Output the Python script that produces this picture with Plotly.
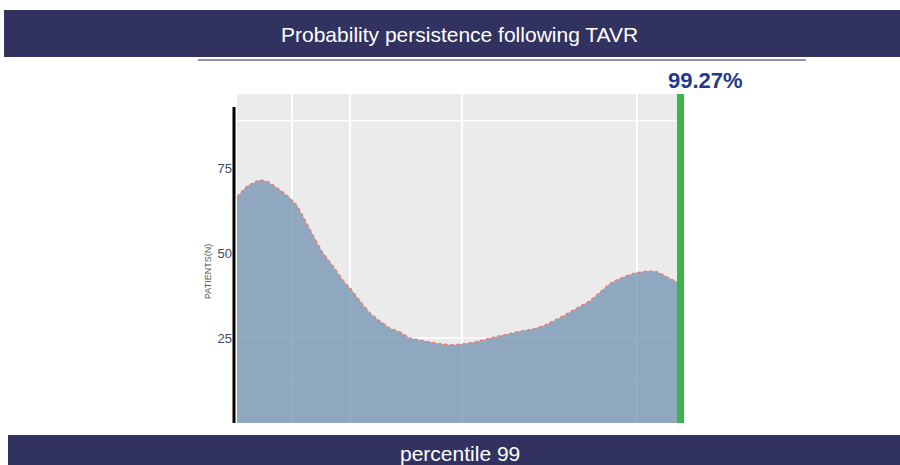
import plotly.graph_objects as go

percentiles = [0, 2.24, 3.58, 5.15, 6.94, 8.95, 11.19, 13.43, 14.77, 17.01, 19.25, 21.49, 23.72,
               25.29, 27.53, 29.77, 32.01, 34.24, 36.48, 38.72, 42.52, 46.1, 48.79, 50.58, 53.27,
               56.62, 59.98, 63.34, 66.7, 68.93, 72.29, 75.65, 79.0, 81.24, 83.48, 85.72, 88.63,
               91.76, 94.0, 96.24, 99.27]
patients = [66.5, 69.7, 70.6, 71.5, 71, 69.2, 67, 64, 60.8, 55.3, 50, 46.2, 42,
            39.7, 35.9, 32.4, 30, 27.9, 26.8, 25, 24, 23.2, 23, 23.3, 23.8,
            25, 26, 27, 27.8, 28.8, 31, 33.5, 36, 38.5, 41, 42.5, 44,
            44.7, 44.5, 43, 41]
percentile_value = 99.27
x_grid = [12.4, 25.3, 50.4, 89.6]
y_grid = [12.5, 25, 89]
y_ticks = [25, 50, 75]

navy = "#323261"

fig = go.Figure()

fig.add_trace(go.Scatter(x=percentiles, y=patients, mode="lines", fill="tozeroy",
                         fillcolor="rgba(112,146,176,0.75)",
                         line=dict(color="#f8766d", width=1.5, dash="dot", shape="spline", smoothing=0.3)))
fig.add_trace(go.Scatter(x=[percentile_value, percentile_value], y=[0, 97], mode="lines",
                         line=dict(color="#3bb54a", width=7)))

for g in y_grid:
    fig.add_shape(type="line", xref="x", yref="y", x0=0, x1=100.05, y0=g, y1=g,
                  line=dict(color="white", width=1.5), layer="below")

# header / footer bands
fig.add_shape(type="rect", xref="paper", yref="paper", x0=0.0045, x1=1, y0=1 - 57 / 465, y1=1 - 10 / 465,
              fillcolor=navy, line=dict(width=0))
fig.add_shape(type="line", xref="paper", yref="paper", x0=198 / 900, x1=806 / 900, y0=1 - 60 / 465, y1=1 - 60 / 465,
              line=dict(color="#6d6d90", width=1.5))
fig.add_shape(type="rect", xref="paper", yref="paper", x0=8 / 900, x1=1, y0=0, y1=1 - 435 / 465,
              fillcolor=navy, line=dict(width=0))
fig.add_shape(type="line", xref="paper", yref="y", x0=234 / 900, x1=234 / 900, y0=0, y1=93,
              line=dict(color="black", width=3))

fig.add_annotation(text="Probability persistence following TAVR", xref="paper", yref="paper",
                   x=460 / 900, y=1 - 34 / 465, xanchor="center", yanchor="middle", showarrow=False,
                   font=dict(family="Liberation Sans, Arial", size=21, color="white"))
fig.add_annotation(text="percentile 99", xref="paper", yref="paper",
                   x=460 / 900, y=1 - 453 / 465, xanchor="center", yanchor="middle", showarrow=False,
                   font=dict(family="Liberation Sans, Arial", size=21, color="white"))
fig.add_annotation(text="<b>99.27%</b>", xref="paper", yref="paper",
                   x=705 / 900, y=1 - 80 / 465, xanchor="center", yanchor="middle", showarrow=False,
                   font=dict(family="Liberation Sans, Arial", size=22, color="#1f3b8c"))
fig.add_annotation(text="PATIENTS(N)", xref="paper", yref="paper", textangle=-90,
                   x=208 / 900, y=1 - 272 / 465, xanchor="center", yanchor="middle", showarrow=False,
                   font=dict(family="Liberation Sans, Arial", size=9, color="#555555"))

fig.update_xaxes(range=[0, 100.05], domain=[237 / 900, 684 / 900], tickvals=x_grid,
                 showticklabels=False, showgrid=True, gridcolor="white", gridwidth=1.5,
                 zeroline=False, showline=False, ticks="")
fig.update_yaxes(range=[0, 96.8], domain=[42 / 465, 371 / 465], tickvals=y_ticks,
                 showgrid=False, zeroline=False, showline=False, ticks="", ticklabelstandoff=4,
                 tickfont=dict(family="Liberation Sans Narrow, Arial", size=13, color="#3b4a6b"))
fig.update_layout(width=900, height=465, margin=dict(l=0, r=0, t=0, b=0),
                  plot_bgcolor="#ebebeb", paper_bgcolor="white", showlegend=False)

fig.write_html("out.html", config={"displayModeBar": False},
               post_script="document.body.style.margin='0';")
